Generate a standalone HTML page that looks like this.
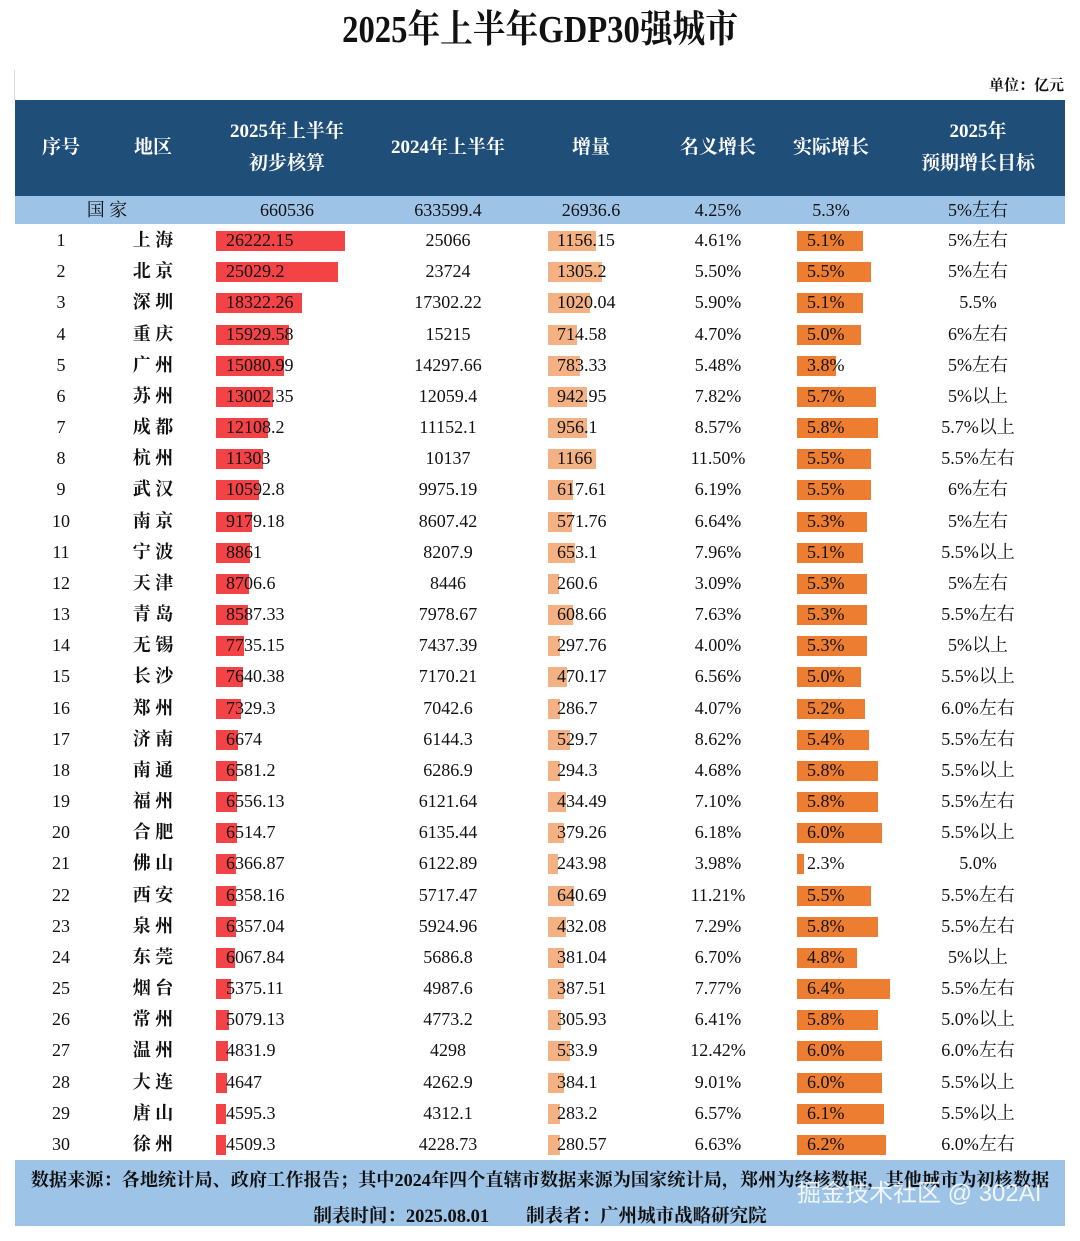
<!DOCTYPE html>
<html><head><meta charset="utf-8"><style>
body{margin:0;width:1080px;height:1241px;background:#fff;position:relative;overflow:hidden;font-family:"Liberation Serif","Noto Serif CJK SC",serif;color:#111}
.a{position:absolute;white-space:nowrap}
.t{line-height:22px;font-size:18px}
.c{transform:translateX(-50%)}
.hd{color:#fff;font-size:19px;font-weight:bold;text-align:center;line-height:32px}
</style></head><body>
<div class="a" style="left:540px;top:8px;transform:translateX(-50%) scaleX(0.86);font-size:38px;font-weight:bold;line-height:44px">2025年上半年GDP30强城市</div>
<div class="a" style="left:14px;top:70px;width:1px;height:30px;background:#ddd"></div>
<div class="a" style="right:16px;top:74px;font-size:15px;font-weight:bold">单位：亿元</div>
<div class="a" style="left:15px;top:100px;width:1050px;height:96px;background:#1f4e79"></div>
<div class="a" style="left:15px;top:196px;width:1050px;height:28px;background:#9dc3e6"></div>
<div class="a" style="left:15px;top:1160px;width:1050px;height:66px;background:#9dc3e6"></div>
<div class="a hd c" style="left:61px;top:132px">序号</div>
<div class="a hd c" style="left:153px;top:132px">地区</div>
<div class="a hd c" style="left:287px;top:116px">2025年上半年<br>初步核算</div>
<div class="a hd c" style="left:448px;top:132px">2024年上半年</div>
<div class="a hd c" style="left:591px;top:132px">增量</div>
<div class="a hd c" style="left:718px;top:132px">名义增长</div>
<div class="a hd c" style="left:831px;top:132px">实际增长</div>
<div class="a hd c" style="left:978px;top:116px">2025年<br>预期增长目标</div>
<div class="a t c" style="left:107px;top:199px">国 家</div>
<div class="a t c" style="left:287px;top:199px">660536</div>
<div class="a t c" style="left:448px;top:199px">633599.4</div>
<div class="a t c" style="left:591px;top:199px">26936.6</div>
<div class="a t c" style="left:718px;top:199px">4.25%</div>
<div class="a t c" style="left:831px;top:199px">5.3%</div>
<div class="a t c" style="left:978px;top:199px">5%左右</div>
<div class="a" style="left:540px;top:1167px;transform:translateX(-50%);font-size:18.2px;font-weight:bold;line-height:26px">数据来源：各地统计局、政府工作报告；其中2024年四个直辖市数据来源为国家统计局，郑州为终核数据，其他城市为初核数据</div>
<div class="a" style="left:540px;top:1204px;transform:translateX(-50%);font-size:18.5px;font-weight:bold;line-height:26px">制表时间：2025.08.01&nbsp;&nbsp;&nbsp;&nbsp;&nbsp;&nbsp;&nbsp;&nbsp;制表者：广州城市战略研究院</div>
<div class="a" style="left:797px;top:1179px;font-family:'Liberation Sans','Noto Sans CJK SC',sans-serif;font-size:24px;line-height:30px;color:rgba(255,255,255,0.85)">掘金技术社区 @ 302AI</div>
<div id="rows"></div>
<script>
var d=[["上 海",26222.15,"25066",1156.15,"4.61%",5.1,"5%左右"],["北 京",25029.2,"23724",1305.2,"5.50%",5.5,"5%左右"],["深 圳",18322.26,"17302.22",1020.04,"5.90%",5.1,"5.5%"],["重 庆",15929.58,"15215",714.58,"4.70%",5.0,"6%左右"],["广 州",15080.99,"14297.66",783.33,"5.48%",3.8,"5%左右"],["苏 州",13002.35,"12059.4",942.95,"7.82%",5.7,"5%以上"],["成 都",12108.2,"11152.1",956.1,"8.57%",5.8,"5.7%以上"],["杭 州",11303,"10137",1166,"11.50%",5.5,"5.5%左右"],["武 汉",10592.8,"9975.19",617.61,"6.19%",5.5,"6%左右"],["南 京",9179.18,"8607.42",571.76,"6.64%",5.3,"5%左右"],["宁 波",8861,"8207.9",653.1,"7.96%",5.1,"5.5%以上"],["天 津",8706.6,"8446",260.6,"3.09%",5.3,"5%左右"],["青 岛",8587.33,"7978.67",608.66,"7.63%",5.3,"5.5%左右"],["无 锡",7735.15,"7437.39",297.76,"4.00%",5.3,"5%以上"],["长 沙",7640.38,"7170.21",470.17,"6.56%",5.0,"5.5%以上"],["郑 州",7329.3,"7042.6",286.7,"4.07%",5.2,"6.0%左右"],["济 南",6674,"6144.3",529.7,"8.62%",5.4,"5.5%左右"],["南 通",6581.2,"6286.9",294.3,"4.68%",5.8,"5.5%以上"],["福 州",6556.13,"6121.64",434.49,"7.10%",5.8,"5.5%左右"],["合 肥",6514.7,"6135.44",379.26,"6.18%",6.0,"5.5%以上"],["佛 山",6366.87,"6122.89",243.98,"3.98%",2.3,"5.0%"],["西 安",6358.16,"5717.47",640.69,"11.21%",5.5,"5.5%左右"],["泉 州",6357.04,"5924.96",432.08,"7.29%",5.8,"5.5%左右"],["东 莞",6067.84,"5686.8",381.04,"6.70%",4.8,"5%以上"],["烟 台",5375.11,"4987.6",387.51,"7.77%",6.4,"5.5%左右"],["常 州",5079.13,"4773.2",305.93,"6.41%",5.8,"5.0%以上"],["温 州",4831.9,"4298",533.9,"12.42%",6.0,"6.0%左右"],["大 连",4647,"4262.9",384.1,"9.01%",6.0,"5.5%以上"],["唐 山",4595.3,"4312.1",283.2,"6.57%",6.1,"5.5%以上"],["徐 州",4509.3,"4228.73",280.57,"6.63%",6.2,"6.0%左右"]];
var h="";
d.forEach(function(r,i){
 var cy=241+i*31.17, ty=cy-12, by=cy-10;
 var gw=Math.max(6,0.00548*(r[1]-2682)), iw=Math.max(4,0.0412*r[3]), rw=Math.max(5,21.1*(r[5]-1.97));
 h+='<div class="a" style="left:216px;top:'+by+'px;width:'+gw+'px;height:20px;background:#f44346"></div>';
 h+='<div class="a" style="left:548px;top:'+by+'px;width:'+iw+'px;height:20px;background:#f4b183"></div>';
 h+='<div class="a" style="left:797px;top:'+by+'px;width:'+rw+'px;height:20px;background:#ed7d31"></div>';
 h+='<div class="a t c" style="left:61px;top:'+ty+'px">'+(i+1)+'</div>';
 h+='<div class="a t c" style="left:153px;top:'+ty+'px;font-weight:bold">'+r[0]+'</div>';
 h+='<div class="a t" style="left:226px;top:'+ty+'px">'+r[1]+'</div>';
 h+='<div class="a t c" style="left:448px;top:'+ty+'px">'+r[2]+'</div>';
 h+='<div class="a t" style="left:557px;top:'+ty+'px">'+r[3]+'</div>';
 h+='<div class="a t c" style="left:718px;top:'+ty+'px">'+r[4]+'</div>';
 h+='<div class="a t" style="left:807px;top:'+ty+'px">'+r[5].toFixed(1)+'%</div>';
 h+='<div class="a t c" style="left:978px;top:'+ty+'px">'+r[6]+'</div>';
});
document.getElementById("rows").innerHTML=h;
</script>
</body></html>
